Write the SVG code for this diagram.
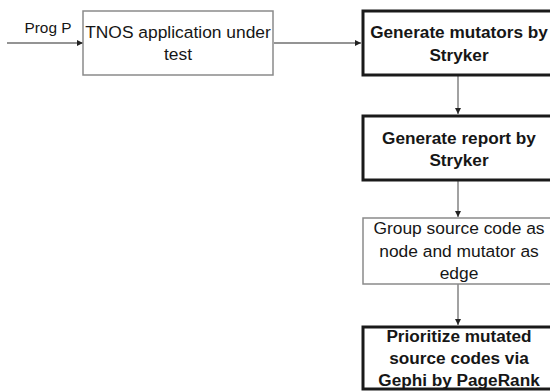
<svg xmlns="http://www.w3.org/2000/svg" width="550" height="391" viewBox="0 0 550 391">
<style>
text{font-family:"Liberation Sans",Arial,sans-serif;fill:#161616;text-anchor:middle}
.r{font-size:17.4px}
.b{font-size:17.2px;font-weight:bold}
.thin{fill:#fff;stroke:#8a8a8a;stroke-width:1.5}
.thick{fill:#fff;stroke:#1a1a1a;stroke-width:3}
.c{stroke:#707070;stroke-width:1.3;fill:none;marker-end:url(#ah)}
</style>
<defs>
<marker id="ah" viewBox="0 0 10 10" refX="10" refY="5" markerWidth="6" markerHeight="6" markerUnits="userSpaceOnUse" orient="auto">
<path d="M0,0 L10,5 L0,10 z" fill="#222"/>
</marker>
</defs>
<rect width="550" height="391" fill="#fff"/>
<g id="connectors">
<line class="c" x1="7" y1="43" x2="83" y2="43"/>
<line class="c" x1="274" y1="43" x2="361" y2="43"/>
<line class="c" x1="458" y1="76" x2="458" y2="114"/>
<line class="c" x1="458" y1="181" x2="458" y2="217"/>
<line class="c" x1="458" y1="284" x2="458" y2="325"/>
</g>
<g id="label-prog">
<text x="48" y="33" style="font-size:15.4px;text-anchor:middle">Prog P</text>
</g>
<g id="n1">
<rect class="thin" x="83" y="11" width="190" height="64"/>
<text class="r" x="178" y="38">TNOS application under</text>
<text class="r" x="178" y="60">test</text>
</g>
<g id="n2">
<rect class="thick" x="363" y="11" width="200" height="64"/>
<text class="b" x="459" y="38">Generate mutators by</text>
<text class="b" x="459" y="61">Stryker</text>
</g>
<g id="n3">
<rect class="thick" x="363" y="116" width="200" height="64"/>
<text class="b" x="459" y="144">Generate report by</text>
<text class="b" x="459" y="166">Stryker</text>
</g>
<g id="n4">
<rect class="thin" x="363" y="218" width="200" height="66"/>
<text class="r" x="459" y="234">Group source code as</text>
<text class="r" x="459" y="257">node and mutator as</text>
<text class="r" x="459" y="279">edge</text>
</g>
<g id="n5">
<rect class="thick" x="363" y="327" width="200" height="62"/>
<text class="b" x="459" y="342">Prioritize mutated</text>
<text class="b" x="459" y="364">source codes via</text>
<text class="b" x="459" y="386">Gephi by PageRank</text>
</g>
</svg>
